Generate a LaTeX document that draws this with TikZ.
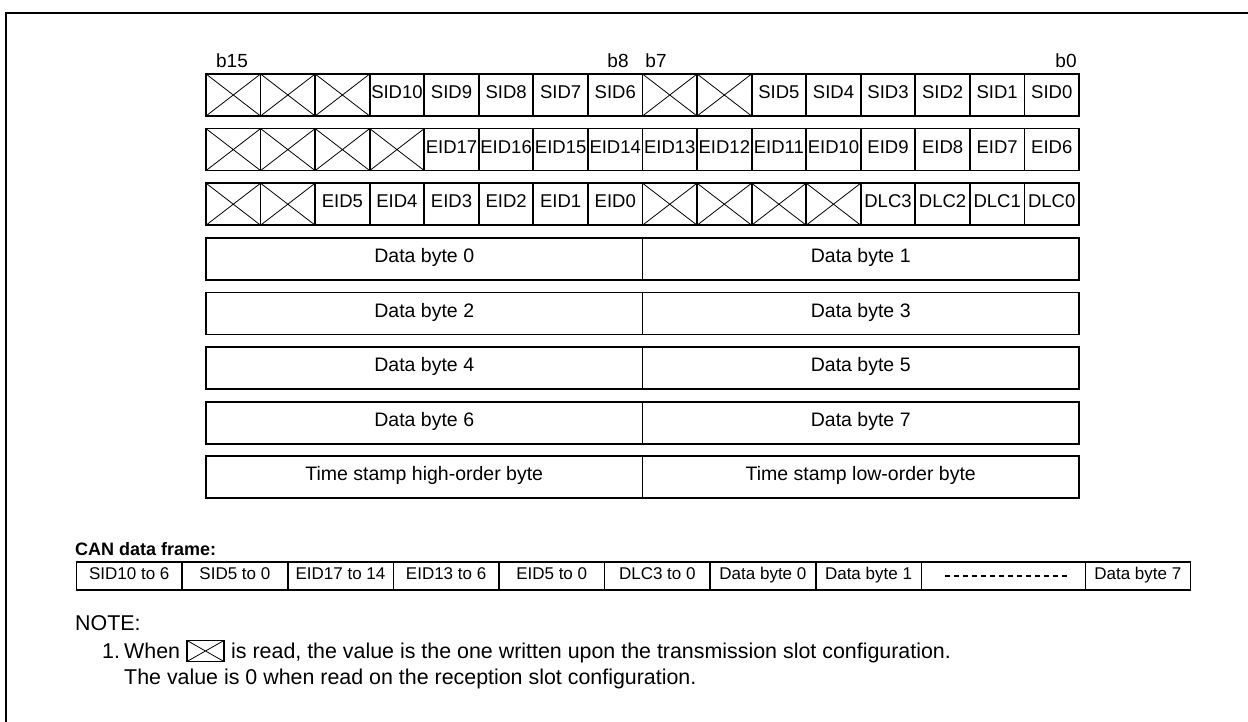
\documentclass[tikz,border=0pt]{standalone}
\usepackage{fontspec}
\setmainfont{Liberation Sans}
\newcommand{\fsz}[1]{\fontsize{#1}{#1}\selectfont}
\begin{document}
\begin{tikzpicture}[x=1pt,y=-1pt,
  cellbase/.style={draw,line width=1.8pt,inner sep=0pt,outer sep=0pt,anchor=north west,text height=0.72em,text depth=0pt},
  bitcell/.style={cellbase,minimum width=54.5625pt,minimum height=42pt,font=\fsz{18.5}},
  halfcell/.style={cellbase,minimum width=436.5pt,minimum height=42pt,font=\fsz{19.5}},
  framecell/.style={cellbase,line width=1.6pt,minimum width=105.6pt,minimum height=28pt,font=\fsz{17}},
  bitlabel/.style={font=\fsz{19},inner sep=0pt,anchor=base},
  xline/.style={line width=0.8pt},
  notetext/.style={font=\fsz{21.4},inner sep=0pt,anchor=base west},
]
\useasboundingbox (0,0) rectangle (1248,722);
\clip (0,0) rectangle (1248,722);
\coordinate (frameTR) at (1260,13);
\coordinate (frameTL) at (6,13);
\coordinate (frameBL) at (6,740);
\draw[line width=2.5pt] (frameTR) -- (frameTL) -- (frameBL);

\def\cw{54.5625}
% row 1
\foreach \lab [count=\i from 0] in {{},{},{},SID10,SID9,SID8,SID7,SID6,{},{},SID5,SID4,SID3,SID2,SID1,SID0}
  \node[bitcell] (ra\i) at ({206+\i*\cw},74) {\lab};
\foreach \i in {0,1,2,8,9}
  \draw[xline] (ra\i.north west) -- (ra\i.south east) (ra\i.north east) -- (ra\i.south west);
% row 2
\foreach \lab [count=\i from 0] in {{},{},{},{},EID17,EID16,EID15,EID14,EID13,EID12,EID11,EID10,EID9,EID8,EID7,EID6}
  \node[bitcell] (rb\i) at ({206+\i*\cw},128.6) {\lab};
\foreach \i in {0,1,2,3}
  \draw[xline] (rb\i.north west) -- (rb\i.south east) (rb\i.north east) -- (rb\i.south west);
% row 3
\foreach \lab [count=\i from 0] in {{},{},EID5,EID4,EID3,EID2,EID1,EID0,{},{},{},{},DLC3,DLC2,DLC1,DLC0}
  \node[bitcell] (rc\i) at ({206+\i*\cw},183.2) {\lab};
\foreach \i in {0,1,8,9,10,11}
  \draw[xline] (rc\i.north west) -- (rc\i.south east) (rc\i.north east) -- (rc\i.south west);
% data rows
\foreach \l/\r [count=\k from 0] in {Data byte 0/Data byte 1,Data byte 2/Data byte 3,Data byte 4/Data byte 5,Data byte 6/Data byte 7,Time stamp high-order byte/Time stamp low-order byte} {
  \node[halfcell] (dl\k) at (206,{237.8+\k*54.6}) {\l};
  \node[halfcell] (dr\k) at (dl\k.north east) {\r};
}
% bit labels
\node[bitlabel] (b15) at (232,68) {b15};
\node[bitlabel] (b8) at (618,68) {b8};
\node[bitlabel] (b7) at (656,68) {b7};
\node[bitlabel] (b0) at (1066,68) {b0};

% CAN data frame
\node[font=\bfseries\fsz{18},inner sep=0pt,anchor=base west] (can) at (75,555) {CAN data frame:};
\node[framecell] (f1) at (76.5,562) {SID10 to 6};
\node[framecell] (f2) at (f1.north east) {SID5 to 0};
\node[framecell] (f3) at (f2.north east) {EID17 to 14};
\node[framecell] (f4) at (f3.north east) {EID13 to 6};
\node[framecell] (f5) at (f4.north east) {EID5 to 0};
\node[framecell] (f6) at (f5.north east) {DLC3 to 0};
\node[framecell] (f7) at (f6.north east) {Data byte 0};
\node[framecell] (f8) at (f7.north east) {Data byte 1};
\node[framecell,minimum width=164pt] (f9) at (f8.north east) {};
\node[framecell,minimum width=105pt] (f10) at (f9.north east) {Data byte 7};
\draw[line width=1.3pt,dash pattern=on 5pt off 4pt] ([xshift=24pt]f9.west) -- ([xshift=-15pt]f9.east);

% note
\node[notetext] (note) at (75,630) {NOTE:};
\node[notetext] (n1) at (102,658) {1.};
\node[notetext] (when) at (124,658) {When};
\node[draw,line width=1.5pt,minimum width=37pt,minimum height=21pt,inner sep=0pt,outer sep=0pt,anchor=west] (xbox) at (187,651) {};
\draw[line width=0.8pt] (xbox.north west) -- (xbox.south east) (xbox.north east) -- (xbox.south west);
\node[notetext] (r1) at (231,658) {is read, the value is the one written upon the transmission slot configuration.};
\node[notetext] (r2) at (124,684) {The value is 0 when read on the reception slot configuration.};
\end{tikzpicture}
\end{document}
